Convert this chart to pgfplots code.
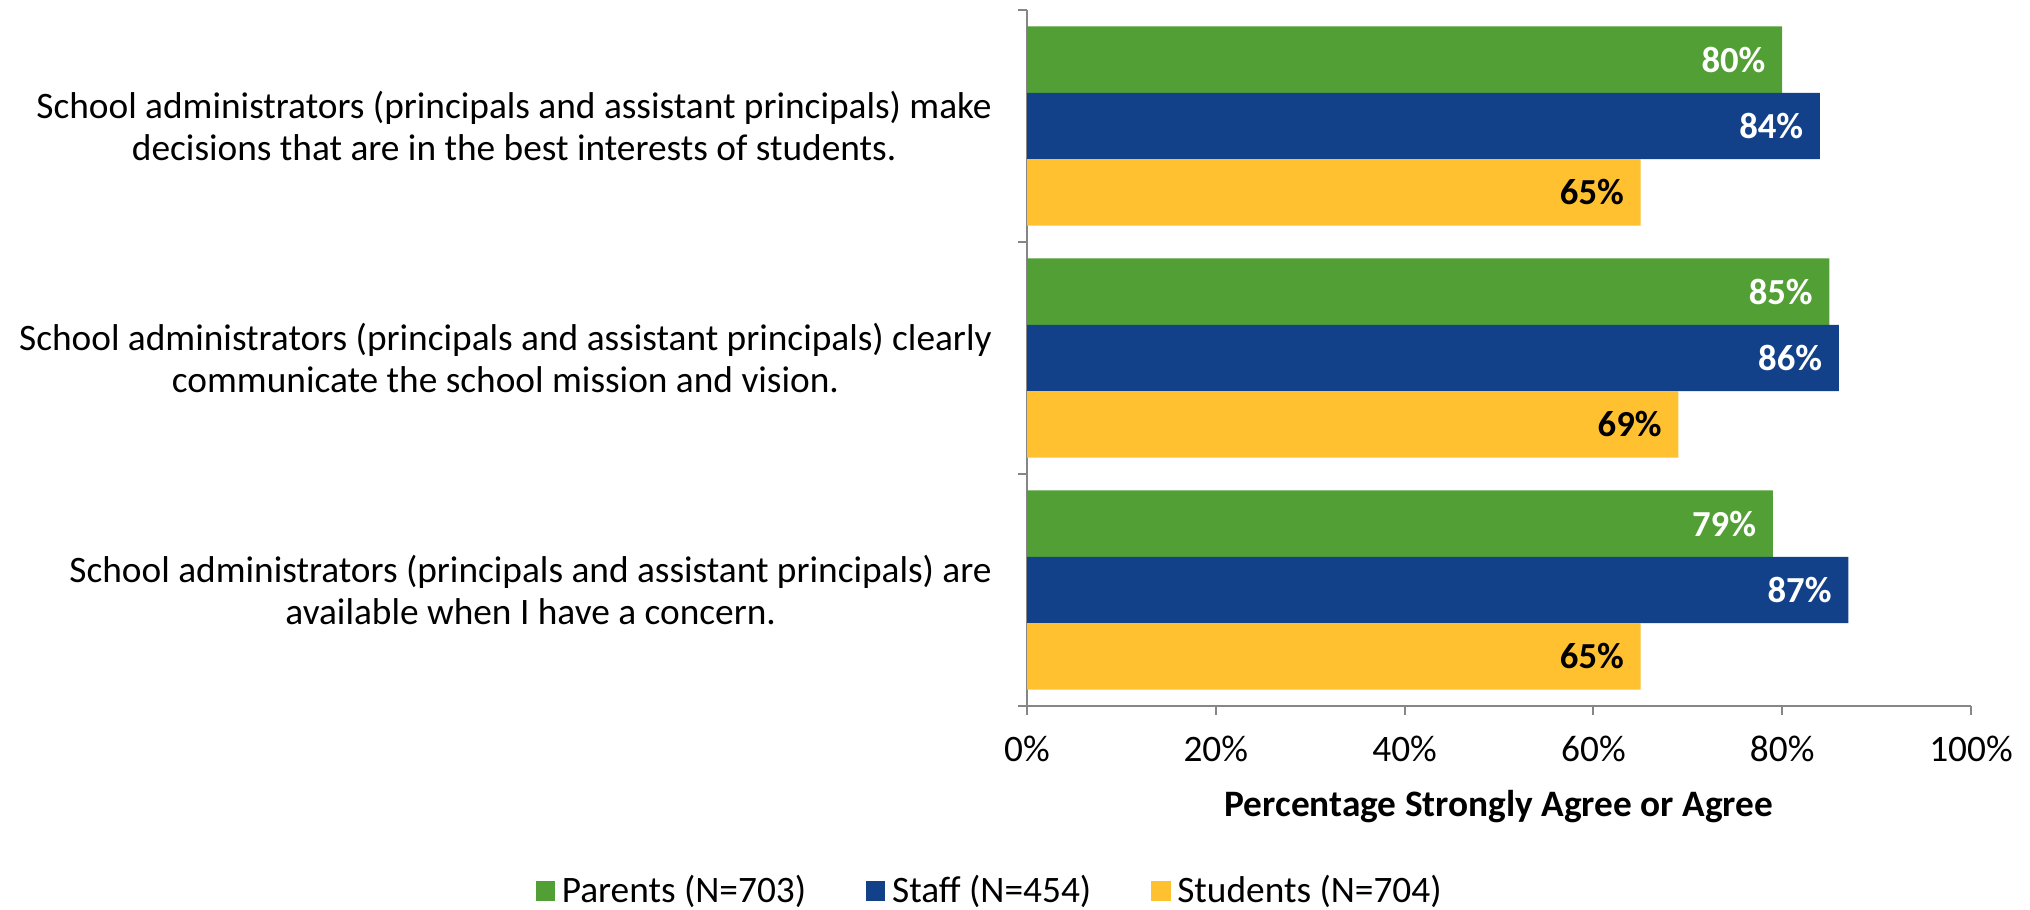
\documentclass[border=0pt]{standalone}
\usepackage{pgfplots}
\pgfplotsset{compat=1.18}
\usepackage{fontspec}
\setmainfont{Carlito}

\definecolor{parents}{RGB}{82,160,53}
\definecolor{staff}{RGB}{19,65,137}
\definecolor{students}{RGB}{255,193,47}
\definecolor{axisgray}{RGB}{134,134,134}

\begin{document}
\begin{tikzpicture}[font=\fontsize{11.2}{12.5}\selectfont]
\useasboundingbox (0,0) rectangle (609pt,272.7pt);
\begin{axis}[
    at={(308.1pt,60.9pt)}, anchor=south west,
    scale only axis,
    width=283.2pt, height=208.8pt,
    xbar,
    bar width=0.286,
    xmin=0, xmax=100,
    ymin=-0.5, ymax=2.5,
    axis lines*=left,
    axis line style={-, draw=axisgray, line width=0.6pt},
    tick align=outside,
    major tick length=2.6pt,
    tick style={draw=axisgray, line width=0.6pt},
    xtick={0,20,...,100},
    xticklabel={\pgfmathprintnumber{\tick}\%},
    /pgf/number format/assume math mode=true,
    xticklabel style={yshift=-3pt},
    ytick={-0.5,0.5,1.5,2.5},
    yticklabels={},
    extra y ticks={0,1,2},
    extra y tick labels={
      {School administrators (principals and assistant principals) are\\available when I have a concern.},
      {School administrators (principals and assistant principals) clearly\\communicate the school mission and vision.},
      {School administrators (principals and assistant principals) make\\decisions that are in the best interests of students.}},
    extra y tick style={major tick length=0pt, yticklabel style={align=center, xshift=-7pt}},
    xlabel={\bfseries Percentage Strongly Agree or Agree},
    xlabel style={at={(axis description cs:0.5,-0.144)}, anchor=center},
    nodes near coords={\pgfmathprintnumber{\pgfplotspointmeta}\%},
    every node near coord/.append style={anchor=east, xshift=-1.5pt, font=\fontsize{11}{12.5}\selectfont\bfseries},
    legend style={at={(-0.037,-0.266)}, anchor=center, draw=none, legend columns=3,
      /tikz/every even column/.append style={column sep=16pt}},
    legend image code/.code={\fill[#1] (0pt,-2.9pt) rectangle (5.8pt,2.9pt);},
]
\addplot[fill=parents, draw=none, bar shift=0.286, every node near coord/.append style={text=white}]
  coordinates {(80,2) (85,1) (79,0)};
\addplot[fill=staff, draw=none, bar shift=0, every node near coord/.append style={text=white}]
  coordinates {(84,2) (86,1) (87,0)};
\addplot[fill=students, draw=none, bar shift=-0.286, every node near coord/.append style={text=black}]
  coordinates {(65,2) (69,1) (65,0)};
\legend{Parents (N=703), Staff (N=454), Students (N=704)}
\end{axis}
\end{tikzpicture}
\end{document}
